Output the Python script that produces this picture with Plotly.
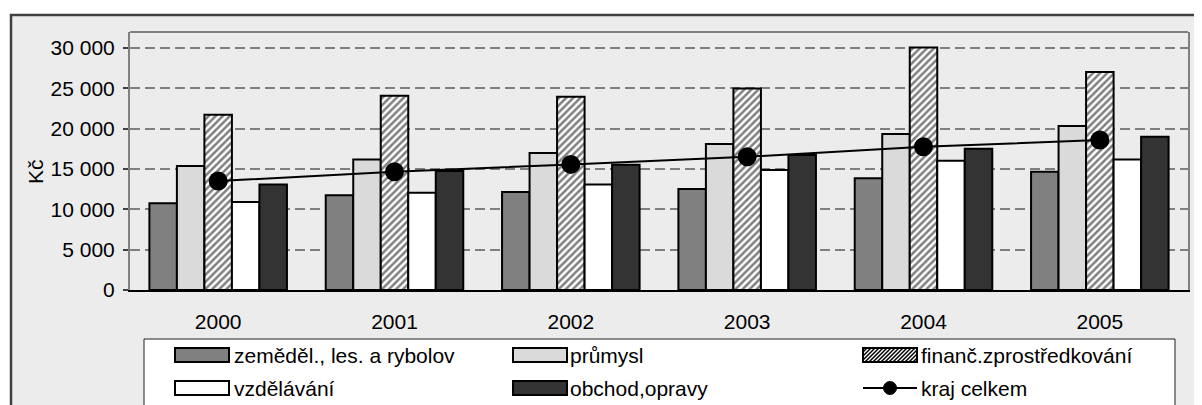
import plotly.graph_objects as go

# ---------------- data ----------------
years = ['2000', '2001', '2002', '2003', '2004', '2005']
zemedel = [10750, 11740, 12150, 12520, 13850, 14670]
prumysl = [15370, 16200, 16980, 18100, 19340, 20330]
financ = [21730, 24090, 23970, 25000, 30090, 27030]
vzdelavani = [10910, 12070, 13100, 14880, 16030, 16200]
obchod = [13100, 14750, 15540, 16740, 17520, 19010]
kraj = [13510, 14670, 15580, 16530, 17770, 18600]

series_names = ['zeměděl., les. a rybolov', 'průmysl', 'finanč.zprostředkování',
                'vzdělávání', 'obchod,opravy', 'kraj celkem']
y_title = 'Kč'

# ---------------- layout geometry (page pixels; page body has 8px margin) ----------------
OFF = 8
W, H = 1202 - OFF, 405 - OFF
PLOT_L, PLOT_R, PLOT_T, PLOT_B = 130, 1188, 32, 290   # in page pixels
L = PLOT_L - OFF
T = PLOT_T - OFF
R = W - (PLOT_R - OFF)
B = H - (PLOT_B - OFF)
PW = PLOT_R - PLOT_L
PH = PLOT_B - PLOT_T
FONT = 'Liberation Sans, Arial, sans-serif'


def px(x):
    return (x - PLOT_L) / PW


def py(y):
    return (PLOT_B - y) / PH


fig = go.Figure()

bar_styles = [
    dict(color='#808080'),
    dict(color='#dadada'),
    dict(color='white', pattern=dict(shape='/', fgcolor='black', bgcolor='white',
                                     size=5, solidity=0.5)),
    dict(color='white'),
    dict(color='#333333'),
]
bar_values = [zemedel, prumysl, financ, vzdelavani, obchod]

for vals, name, st in zip(bar_values, series_names[:5], bar_styles):
    marker = dict(line=dict(color='black', width=2), **st)
    fig.add_trace(go.Bar(x=years, y=vals, name=name, marker=marker,
                         showlegend=False))

fig.add_trace(go.Scatter(x=years, y=kraj, name=series_names[5], mode='lines+markers',
                         line=dict(color='black', width=2),
                         marker=dict(symbol='circle', size=19, color='black'),
                         showlegend=False))

shapes = []
# outer chart frame
shapes.append(dict(type='rect', xref='paper', yref='paper', layer='below',
                   x0=px(11), x1=px(1240), y0=py(15), y1=py(440),
                   fillcolor='#ececec', line=dict(color='#404040', width=2.5)))
# top border of plot area
shapes.append(dict(type='line', xref='paper', yref='paper', layer='above',
                   x0=0, x1=1, y0=1, y1=1, line=dict(color='#808080', width=2)))
# legend box
shapes.append(dict(type='rect', xref='paper', yref='paper', layer='below',
                   x0=px(144), x1=px(1175), y0=py(339), y1=py(440),
                   fillcolor='white', line=dict(color='#202020', width=1)))

# legend entries
col_sym = [175, 513, 863]
col_txt = [232, 568, 919]
row_y = [355, 388]
sym_w, sym_h = 54, 14
fills = ['#808080', '#dadada', None, 'white', '#333333']
annotations = []
for i, name in enumerate(series_names):
    r, c = divmod(i, 3)
    x0 = col_sym[c]
    x1 = x0 + sym_w
    yc = row_y[r]
    if i < 5:
        ya, yb = yc - sym_h / 2, yc + sym_h / 2
        if fills[i] is None:
            shapes.append(dict(type='rect', xref='paper', yref='paper', layer='above',
                               x0=px(x0), x1=px(x1), y0=py(yb), y1=py(ya),
                               fillcolor='white', line=dict(width=0)))
            segs = []
            step = 4
            c0 = x0 - sym_h
            while c0 < x1:
                tmin = max(0, x0 - c0)
                tmax = min(sym_h, x1 - c0)
                if tmin < tmax:
                    segs.append('M%.5f,%.5f L%.5f,%.5f' % (
                        px(c0 + tmin), py(yb - tmin), px(c0 + tmax), py(yb - tmax)))
                c0 += step
            shapes.append(dict(type='path', xref='paper', yref='paper', layer='above',
                               path=' '.join(segs), line=dict(color='black', width=1.5)))
            shapes.append(dict(type='rect', xref='paper', yref='paper', layer='above',
                               x0=px(x0), x1=px(x1), y0=py(yb), y1=py(ya),
                               fillcolor='rgba(0,0,0,0)', line=dict(color='black', width=2)))
        else:
            shapes.append(dict(type='rect', xref='paper', yref='paper', layer='above',
                               x0=px(x0), x1=px(x1), y0=py(yb), y1=py(ya),
                               fillcolor=fills[i], line=dict(color='black', width=2)))
    else:
        shapes.append(dict(type='line', xref='paper', yref='paper', layer='above',
                           x0=px(x0), x1=px(x1), y0=py(yc), y1=py(yc),
                           line=dict(color='black', width=2)))
        xm = (x0 + x1) / 2
        shapes.append(dict(type='circle', xref='paper', yref='paper', layer='above',
                           x0=px(xm - 6.5), x1=px(xm + 6.5), y0=py(yc + 6.5), y1=py(yc - 6.5),
                           fillcolor='black', line=dict(color='black', width=1)))
    annotations.append(dict(text=name, xref='paper', yref='paper', x=px(col_txt[c]),
                            y=py(yc), xanchor='left', yanchor='middle', showarrow=False,
                            font=dict(family=FONT, size=21, color='black')))

annotations.append(dict(text=y_title, xref='paper', yref='paper', x=px(35), y=py(172),
                        textangle=-90, xanchor='center', yanchor='middle', showarrow=False,
                        font=dict(family=FONT, size=21, color='black')))

fig.update_layout(
    width=W, height=H,
    margin=dict(l=L, r=R, t=T, b=B, pad=0),
    paper_bgcolor='white', plot_bgcolor='white',
    barmode='group', bargap=0.22, bargroupgap=0,
    font=dict(family=FONT, size=21, color='black'),
    shapes=shapes, annotations=annotations,
    showlegend=False,
    separators=', ',
)
fig.update_xaxes(type='category', showline=True, linecolor='black', linewidth=2,
                 ticks='', showgrid=False, ticklabelstandoff=12,
                 tickfont=dict(family=FONT, size=21, color='black'))
fig.update_yaxes(range=[0, 32000], dtick=5000, tick0=0, tickformat=',d',
                 showline=True, linecolor='#808080', linewidth=2, mirror=True,
                 ticks='outside', ticklen=5, tickwidth=1.5, tickcolor='#404040',
                 showgrid=True, gridcolor='#7f7f7f', gridwidth=1.5, griddash='10px,5px',
                 zeroline=False, ticklabelstandoff=4,
                 tickfont=dict(family=FONT, size=21, color='black'))

fig.write_html('out.html')
